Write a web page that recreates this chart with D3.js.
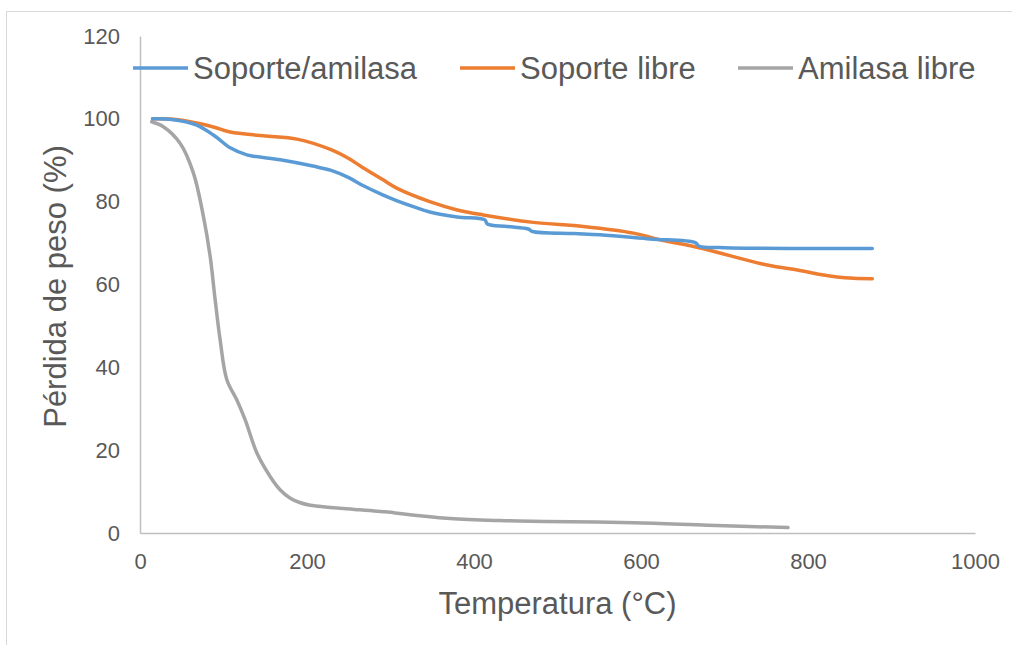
<!DOCTYPE html>
<html>
<head>
<meta charset="utf-8">
<script src="https://cdn.jsdelivr.net/npm/d3@7"></script>
<style>
body{margin:0;background:#fff;}
svg{display:block;font-family:"Liberation Sans",Arial,sans-serif;}
</style>
</head>
<body>
<svg id="chart" width="1012" height="645"></svg>
<script>
const seriesNames = ["Soporte/amilasa", "Soporte libre", "Amilasa libre"];
const seriesColors = ["#5b9bd5", "#ed7d31", "#a5a5a5"];

const tempSA = [15, 40, 68, 90, 108, 128, 168, 207, 228, 250, 267, 290, 308, 330, 347, 380, 413, 416, 440, 465, 470, 520, 551, 611, 665, 670, 700, 780, 877];
const valSA  = [100, 99.8, 98.5, 95.8, 93.0, 91.3, 90.1, 88.6, 87.6, 85.8, 83.9, 81.7, 80.2, 78.6, 77.5, 76.3, 75.6, 74.6, 74.0, 73.4, 72.8, 72.3, 72.0, 71.0, 70.1, 69.2, 68.9, 68.7, 68.7];

const tempSL = [15, 40, 68, 90, 108, 148, 188, 228, 250, 267, 290, 308, 347, 380, 411, 471, 531, 591, 623, 671, 751, 790, 815, 835, 855, 877];
const valSL  = [100, 99.9, 99.0, 97.9, 96.8, 95.9, 95.1, 92.6, 90.4, 88.2, 85.4, 83.2, 80.0, 78.0, 76.8, 75.0, 74.0, 72.4, 70.8, 68.8, 64.7, 63.4, 62.4, 61.8, 61.5, 61.4];

const tempAL = [14, 28, 48, 64, 76, 84, 90, 96, 104, 116, 126, 140, 156, 168, 180, 192, 204, 263, 300, 311, 371, 431, 485, 591, 680, 776];
const valAL  = [99.3, 98.1, 94.1, 86.9, 76.4, 66.8, 56.3, 46.6, 37.0, 32.1, 27.3, 19.3, 13.6, 10.4, 8.4, 7.3, 6.7, 5.6, 5.0, 4.7, 3.5, 3.0, 2.8, 2.5, 1.9, 1.3];

const xTicks = [0, 200, 400, 600, 800, 1000];
const yTicks = [0, 20, 40, 60, 80, 100, 120];
const xTitle = "Temperatura (°C)";
const yTitle = "Pérdida de peso (%)";

const svg = d3.select("#chart");
const x = d3.scaleLinear().domain([0, 1000]).range([140, 975]);
const y = d3.scaleLinear().domain([0, 120]).range([533, 36]);

// outer chart border (partially cropped)
svg.append("rect").attr("x", 6.5).attr("y", 11.5).attr("width", 1100).attr("height", 800)
  .attr("fill", "none").attr("stroke", "#d9d9d9").attr("stroke-width", 1);

// axes
const xAxis = svg.append("g").attr("transform", `translate(0,${y(0)})`)
  .call(d3.axisBottom(x).tickValues(xTicks).tickSize(0).tickPadding(20).tickFormat(d3.format("d")));
const yAxis = svg.append("g").attr("transform", `translate(${x(0)},0)`)
  .call(d3.axisLeft(y).tickValues(yTicks).tickSize(0).tickPadding(20).tickFormat(d3.format("d")));
[xAxis, yAxis].forEach(g => {
  g.select(".domain").attr("stroke", "#bfbfbf").attr("stroke-width", 1.5);
  g.selectAll("text").attr("font-size", 22).attr("fill", "#595959")
    .attr("font-family", "'Liberation Sans', Arial, sans-serif");
});

// axis titles
svg.append("text").attr("x", (x(0) + x(1000)) / 2).attr("y", 614)
  .attr("text-anchor", "middle").attr("font-size", 31).attr("fill", "#595959").text(xTitle);
svg.append("text").attr("transform", `translate(66,${(y(0) + y(120)) / 2 + 2}) rotate(-90)`)
  .attr("text-anchor", "middle").attr("font-size", 31).attr("fill", "#595959").text(yTitle);

// lines
const data = [
  tempSA.map((t, i) => [t, valSA[i]]),
  tempSL.map((t, i) => [t, valSL[i]]),
  tempAL.map((t, i) => [t, valAL[i]])
];
const line = d3.line().x(d => x(d[0])).y(d => y(d[1])).curve(d3.curveCatmullRom.alpha(0.5));
[2, 1, 0].forEach(i => {
  svg.append("path").datum(data[i]).attr("d", line).attr("fill", "none")
    .attr("stroke", seriesColors[i]).attr("stroke-width", 3.5)
    .attr("stroke-linejoin", "round").attr("stroke-linecap", "round");
});

// legend
const legendPos = [[133, 190], [460, 517], [738, 795]];
seriesNames.forEach((name, i) => {
  const g = svg.append("g");
  g.append("line").attr("x1", legendPos[i][0]).attr("x2", legendPos[i][0] + 55)
    .attr("y1", 68).attr("y2", 68).attr("stroke", seriesColors[i]).attr("stroke-width", 3.5);
  g.append("text").attr("x", legendPos[i][1] + 3).attr("y", 79)
    .attr("font-size", 31).attr("fill", "#595959").text(name);
});
</script>
</body>
</html>
